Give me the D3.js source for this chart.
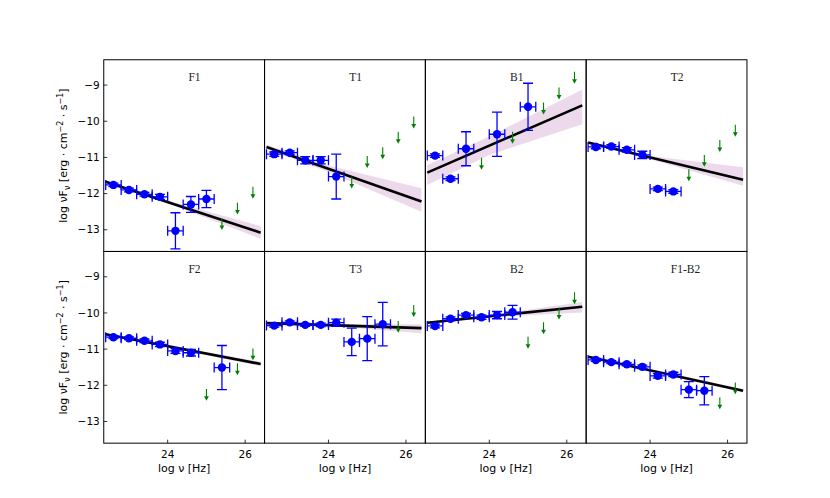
<!DOCTYPE html>
<html>
<head>
<meta charset="utf-8">
<script src="https://cdn.jsdelivr.net/npm/d3@7"></script>
<style>
    body { margin: 0; background: #fff; }
    text { font-family: "DejaVu Sans", sans-serif; }
    text.panel-name { font-family: "Liberation Serif", serif; }
</style>
</head>
<body>
<div id="chart"></div>
<script>
const panelNames = ["F1", "T1", "B1", "T2", "F2", "T3", "B2", "F1-B2"];

// detected points
const detX = [
    [22.6, 23.0, 23.4, 23.8, 24.2, 24.6, 25.0],
    [22.6, 23.0, 23.4, 23.8, 24.2],
    [22.6, 23.0, 23.4, 24.2, 25.0],
    [22.6, 23.0, 23.4, 23.8, 24.2, 24.6],
    [22.6, 23.0, 23.4, 23.8, 24.2, 24.6, 25.4],
    [22.6, 23.0, 23.4, 23.8, 24.2, 24.6, 25.0, 25.4],
    [22.6, 23.0, 23.4, 23.8, 24.2, 24.6],
    [22.6, 23.0, 23.4, 23.8, 24.2, 24.6, 25.0, 25.4]
];
const detY = [
    [-11.76, -11.90, -12.02, -12.09, -13.03, -12.30, -12.15],
    [-10.91, -10.87, -11.08, -11.08, -11.53],
    [-10.95, -11.59, -10.76, -10.36, -9.60],
    [-10.71, -10.70, -10.79, -10.93, -11.87, -11.94],
    [-10.67, -10.70, -10.77, -10.87, -11.05, -11.10, -11.51],
    [-10.35, -10.26, -10.33, -10.33, -10.27, -10.80, -10.71, -10.31],
    [-10.36, -10.16, -10.06, -10.12, -10.06, -9.98],
    [-11.30, -11.36, -11.42, -11.49, -11.74, -11.70, -12.12, -12.15]
];
const detYErr = [
    [0.05, 0.05, 0.05, 0.07, 0.5, 0.22, 0.24],
    [0.06, 0.05, 0.1, 0.1, 0.62],
    [0.05, 0.05, 0.47, 0.61, 0.65],
    [0.05, 0.05, 0.06, 0.1, 0.05, 0.05],
    [0.04, 0.04, 0.05, 0.06, 0.07, 0.09, 0.61],
    [0.04, 0.04, 0.04, 0.05, 0.1, 0.38, 0.61, 0.60],
    [0.05, 0.05, 0.05, 0.06, 0.1, 0.19],
    [0.04, 0.04, 0.04, 0.05, 0.06, 0.06, 0.22, 0.39]
];
const binHalfWidth = 0.2;

// upper limits
const ulX = [
    [25.4, 25.8, 26.2],
    [24.6, 25.0, 25.4, 25.8, 26.2],
    [23.8, 24.6, 25.4, 25.8, 26.2],
    [25.0, 25.4, 25.8, 26.2],
    [25.0, 25.8, 26.2],
    [25.8, 26.2],
    [25.0, 25.4, 25.8, 26.2],
    [25.8, 26.2]
];
const ulY = [
    [-12.68, -12.25, -11.81],
    [-11.53, -10.96, -10.72, -10.29, -9.87],
    [-11.01, -10.29, -9.48, -9.07, -8.63],
    [-11.33, -10.93, -10.52, -10.10],
    [-12.10, -11.39, -10.98],
    [-10.22, -9.78],
    [-10.66, -10.26, -9.85, -9.43],
    [-12.33, -11.92]
];
const ulLength = 0.33;

// power-law fit and its band
const fitX = [22.4, 26.4];
const fitY = [
    [-11.67, -13.08],
    [-10.71, -12.22],
    [-11.42, -9.56],
    [-10.59, -11.62],
    [-10.59, -11.41],
    [-10.28, -10.42],
    [-10.27, -9.83],
    [-11.21, -12.15]
];
const bandX = [22.4, 24.0, 26.4];
const bandHi = [
    [-11.64, -12.19, -12.90],
    [-10.65, -11.22, -11.85],
    [-11.21, -10.42, -9.12],
    [-10.56, -10.96, -11.27],
    [-10.56, -10.89, -11.35],
    [-10.25, -10.31, -10.31],
    [-10.24, -10.06, -9.70],
    [-11.18, -11.56, -12.10]
];
const bandLo = [
    [-11.70, -12.27, -13.25],
    [-10.77, -11.40, -12.50],
    [-11.76, -10.93, -10.08],
    [-10.62, -11.05, -11.78],
    [-10.62, -10.95, -11.47],
    [-10.31, -10.36, -10.56],
    [-10.30, -10.12, -9.99],
    [-11.24, -11.61, -12.20]
];

const xTicks = [24, 26];
const yTicks = [-9, -10, -11, -12, -13];

const width = 830, height = 498;
const marginLeft = 103.75, marginTop = 59.76;
const pw = 160.8, ph = 191.7;

const svg = d3.select("#chart").append("svg")
    .attr("width", width)
    .attr("height", height);

const x = d3.scaleLinear().domain([22.35, 26.5]).range([0, pw]);
const y = d3.scaleLinear().domain([-13.6, -8.3]).range([ph, 0]);

const blue = "#0000ff", green = "#008000";

panelNames.forEach((name, i) => {
    const col = i % 4, row = Math.floor(i / 4);
    const g = svg.append("g")
        .attr("transform", `translate(${marginLeft + col * pw},${marginTop + row * ph})`);

    g.append("clipPath").attr("id", "clip" + i)
        .append("rect").attr("width", pw).attr("height", ph);
    const plot = g.append("g").attr("clip-path", `url(#clip${i})`);

    const band = d3.area()
        .x((d, k) => x(bandX[k]))
        .y0((d, k) => y(bandLo[i][k]))
        .y1((d, k) => y(bandHi[i][k]));
    plot.append("path")
        .attr("d", band(bandX))
        .attr("fill", "purple")
        .attr("fill-opacity", 0.15);

    plot.append("line")
        .attr("x1", x(fitX[0])).attr("y1", y(fitY[i][0]))
        .attr("x2", x(fitX[1])).attr("y2", y(fitY[i][1]))
        .attr("stroke", "black")
        .attr("stroke-width", 2.6);

    // upper limit arrows
    ulX[i].forEach((ux, k) => {
        const ax = x(ux), ay0 = y(ulY[i][k]), ay1 = y(ulY[i][k] - ulLength);
        plot.append("line")
            .attr("x1", ax).attr("y1", ay0)
            .attr("x2", ax).attr("y2", ay1 - 3)
            .attr("stroke", green)
            .attr("stroke-width", 1.1);
        plot.append("path")
            .attr("d", `M${ax - 2.4},${ay1 - 4.5}L${ax + 2.4},${ay1 - 4.5}L${ax},${ay1}Z`)
            .attr("fill", green);
    });

    // error bars and points
    detX[i].forEach((dx, k) => {
        const cx = x(dx), cy = y(detY[i][k]);
        const yt = y(detY[i][k] + detYErr[i][k]), yb = y(detY[i][k] - detYErr[i][k]);
        const xl = x(dx - binHalfWidth), xr = x(dx + binHalfWidth);
        const eb = plot.append("g")
            .attr("stroke", blue)
            .attr("stroke-width", 1.3)
            .attr("fill", "none");
        eb.append("path").attr("d", `M${cx},${yt}V${yb}M${xl},${cy}H${xr}`);
        eb.append("path").attr("d",
            `M${cx - 5},${yt}H${cx + 5}M${cx - 5},${yb}H${cx + 5}` +
            `M${xl},${cy - 5}V${cy + 5}M${xr},${cy - 5}V${cy + 5}`);
        plot.append("circle")
            .attr("cx", cx).attr("cy", cy).attr("r", 4.2)
            .attr("fill", blue);
    });

    g.append("text")
        .attr("class", "panel-name")
        .attr("x", x(24.535))
        .attr("y", 21.5)
        .attr("font-size", 11.5)
        .attr("fill", "#222")
        .text(name);

    g.append("rect")
        .attr("width", pw).attr("height", ph)
        .attr("fill", "none")
        .attr("stroke", "black")
        .attr("stroke-width", 1);

    if (col === 0) {
        yTicks.forEach(t => {
            g.append("line")
                .attr("x1", 0).attr("x2", 3.5)
                .attr("y1", y(t)).attr("y2", y(t))
                .attr("stroke", "black").attr("stroke-width", 0.8);
            g.append("text")
                .attr("x", -4).attr("y", y(t))
                .attr("dy", "0.35em")
                .attr("text-anchor", "end")
                .attr("font-size", 10.5)
                .text("\u2212" + Math.abs(t));
        });
        const lab = g.append("text")
            .attr("transform", `translate(${-37},${ph / 2}) rotate(-90)`)
            .attr("text-anchor", "middle")
            .attr("font-size", 11);
        lab.append("tspan").text("log \u03bdF");
        lab.append("tspan").attr("font-size", 8).attr("dy", 3).text("\u03bd");
        lab.append("tspan").attr("dy", -3).text(" [erg \u00b7 cm");
        lab.append("tspan").attr("font-size", 8).attr("dy", -4).text("\u22122");
        lab.append("tspan").attr("dy", 4).text(" \u00b7 s");
        lab.append("tspan").attr("font-size", 8).attr("dy", -4).text("\u22121");
        lab.append("tspan").attr("dy", 4).text("]");
    }

    if (row === 1) {
        xTicks.forEach(t => {
            g.append("line")
                .attr("x1", x(t)).attr("x2", x(t))
                .attr("y1", ph).attr("y2", ph - 3.5)
                .attr("stroke", "black").attr("stroke-width", 0.8);
            g.append("text")
                .attr("x", x(t)).attr("y", ph + 15)
                .attr("text-anchor", "middle")
                .attr("font-size", 10.5)
                .text(t);
        });
        g.append("text")
            .attr("x", pw / 2).attr("y", ph + 29)
            .attr("text-anchor", "middle")
            .attr("font-size", 11)
            .text("log \u03bd [Hz]");
    }
});
</script>
</body>
</html>
